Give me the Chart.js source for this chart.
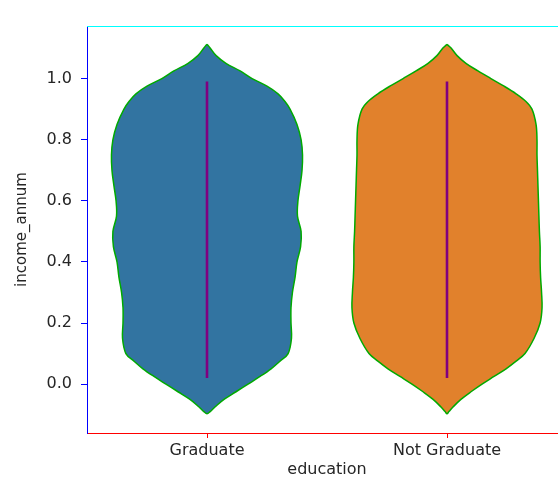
<!DOCTYPE html>
<html>
<head>
<meta charset="utf-8">
<script src="https://cdn.jsdelivr.net/npm/chart.js"></script>
<style>
  html, body { margin: 0; padding: 0; background: #fff; overflow: hidden; }
  #chart { display: block; }
</style>
</head>
<body>
<canvas id="chart" width="580" height="479"></canvas>
<script>
    // --- Data ---
    const educationLevels = ['Graduate', 'Not Graduate'];

    const incomeLevels = [
        11120000, 11000000, 10750000, 10500000, 10250000, 10000000, 9750000, 9500000, 9250000,
        9000000, 8500000, 8000000, 7500000, 7000000, 6500000, 6000000, 5500000, 5000000,
        4500000, 4000000, 3500000, 3000000, 2500000, 2000000, 1500000, 1000000, 750000,
        500000, 250000, 0, -250000, -500000, -750000, -900000, -970000
    ];
    const graduateHalfWidth = [
        0, 0.013, 0.038, 0.079, 0.138, 0.188, 0.250, 0.296, 0.325,
        0.346, 0.375, 0.392, 0.398, 0.396, 0.388, 0.379, 0.377, 0.392,
        0.390, 0.375, 0.367, 0.356, 0.350, 0.350, 0.352, 0.338, 0.304,
        0.267, 0.221, 0.171, 0.121, 0.071, 0.033, 0.013, 0
    ];
    const notGraduateHalfWidth = [
        0, 0.017, 0.042, 0.079, 0.129, 0.183, 0.238, 0.288, 0.329,
        0.354, 0.371, 0.375, 0.375, 0.377, 0.379, 0.381, 0.383, 0.385,
        0.388, 0.388, 0.390, 0.394, 0.396, 0.388, 0.363, 0.325, 0.288,
        0.246, 0.196, 0.146, 0.100, 0.058, 0.025, 0.008, 0
    ];

    const whiskerLow = [200000, 200000];
    const whiskerHigh = [9900000, 9900000];
    const quartile1 = [2570000, 2490000];
    const quartile3 = [7590000, 7590000];
    const medians = [5080000, 4990000];

    const yTicks = [0, 2000000, 4000000, 6000000, 8000000, 10000000];

    // --- Styles (debug colours) ---
    const violinColors = ['#3274a1', '#e1812c'];
    const lineGray = '#00aa00';
    const textColor = '#262626';
    const fontFamily = "'DejaVu Sans', sans-serif";
    const fontSize = 16;

    function violinOutline(center, halfWidths) {
        const pts = [];
        for (let i = 0; i < incomeLevels.length; i++) {
            pts.push({ x: center - halfWidths[i], y: incomeLevels[i] });
        }
        for (let i = incomeLevels.length - 2; i >= 0; i--) {
            pts.push({ x: center + halfWidths[i], y: incomeLevels[i] });
        }
        return pts;
    }

    const halfWidths = [graduateHalfWidth, notGraduateHalfWidth];
    const datasets = [];

    educationLevels.forEach((name, c) => {
        datasets.push({
            label: name,
            data: violinOutline(c, halfWidths[c]),
            showLine: true,
            fill: 'shape',
            backgroundColor: violinColors[c],
            borderColor: lineGray,
            borderWidth: 1.5,
            tension: 0.35,
            pointRadius: 0,
            order: 3
        });
        datasets.push({
            label: name + ' whisker',
            data: [{ x: c, y: whiskerLow[c] }, { x: c, y: whiskerHigh[c] }],
            showLine: true,
            borderColor: 'purple',
            borderWidth: 2.6,
            pointRadius: 0,
            order: 2
        });
    });

    const framePlugin = {
        id: 'frame',
        afterDraw(chart) {
            const { ctx, chartArea } = chart;
            ctx.save();
            ctx.strokeStyle = 'cyan';
            ctx.lineWidth = 1;
            ctx.beginPath();
            ctx.moveTo(chartArea.left, chartArea.top + 0.5);
            ctx.lineTo(chart.width, chartArea.top + 0.5);
            ctx.stroke();
            ctx.restore();
        }
    };

    new Chart(document.getElementById('chart'), {
        type: 'scatter',
        data: { datasets: datasets },
        options: {
            responsive: false,
            animation: false,
            events: [],
            layout: { padding: { top: 26, right: 13, left: 0, bottom: 0 } },
            plugins: { legend: { display: false }, tooltip: { enabled: false } },
            scales: {
                x: {
                    type: 'linear', min: -0.5, max: 1.5,
                    afterBuildTicks: (scale) => { scale.ticks = educationLevels.map((_, i) => ({ value: i })); },
                    afterFit: (scale) => { scale.height = 46; scale.paddingLeft = 0; scale.paddingRight = 0; },
                    ticks: { callback: (v) => educationLevels[v], color: textColor, font: { family: fontFamily, size: fontSize }, padding: 3, maxRotation: 0, autoSkip: false },
                    grid: { drawOnChartArea: false, tickLength: 5, color: 'red' },
                    border: { display: true, color: 'red', width: 1 },
                    title: { display: true, text: 'education', color: textColor, font: { family: fontFamily, size: fontSize }, padding: { top: 0, bottom: 0 } }
                },
                y: {
                    type: 'linear', min: -1600000, max: 11720000,
                    afterBuildTicks: (scale) => { scale.ticks = yTicks.map(v => ({ value: v })); },
                    afterFit: (scale) => { scale.width = 87; scale.paddingTop = 0; scale.paddingBottom = 0; },
                    ticks: { callback: (v) => (v / 1e7).toFixed(1), color: textColor, font: { family: fontFamily, size: fontSize }, padding: 9, autoSkip: false },
                    grid: { drawOnChartArea: false, tickLength: 6, color: 'blue' },
                    border: { display: true, color: 'blue', width: 1 },
                    title: { display: true, text: 'income_annum', color: textColor, font: { family: fontFamily, size: 15 }, padding: { top: 13, bottom: 0 } }
                }
            }
        },
        plugins: [framePlugin]
    });
</script>
</body>
</html>
